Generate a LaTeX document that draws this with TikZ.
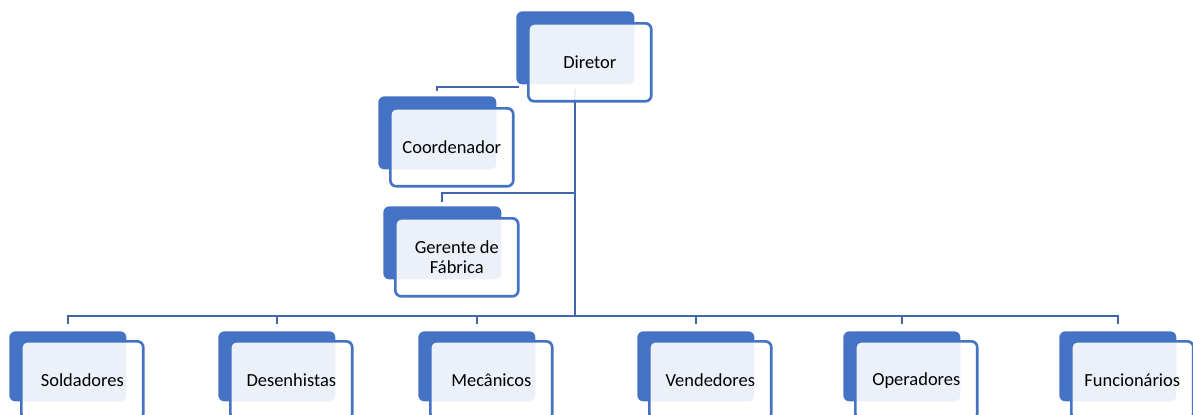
\documentclass[tikz,border=0pt]{standalone}
\usepackage{fontspec}
\setmainfont{Carlito}
\usetikzlibrary{positioning, calc}
\definecolor{boxblue}{RGB}{68,114,196}
\definecolor{linkblue}{RGB}{66,102,172}

\begin{document}
\begin{tikzpicture}[x=0.02cm, y=-0.02cm,
    font=\fontsize{10.5}{11.5}\selectfont,
    back/.style={fill=boxblue, rounded corners=0.12cm, anchor=north west, inner sep=0pt,
      minimum width=2.36cm, minimum height=1.46cm},
    front/.style={draw=boxblue, line width=1.5pt, fill=white, fill opacity=0.9, text opacity=1,
      rounded corners=0.12cm, anchor=north west, align=center, inner sep=0pt,
      minimum width=2.46cm, minimum height=1.56cm},
    lowback/.style={back, minimum width=2.34cm, minimum height=1.40cm},
    lowfront/.style={front, minimum width=2.44cm, minimum height=1.56cm},
    conn/.style={draw=linkblue, line width=1.3pt},
    ]
    \useasboundingbox (0,0) rectangle (1193,414);

    % back tabs
    \node[back] (dir-b) at (516,11) {};
    \node[back] (coord-b) at (378,96) {};
    \node[back] (ger-b) at (383,206) {};
    \foreach \nm/\x in {sold/9, des/218, mec/418, vend/637, oper/843, func/1059}
      \node[lowback] (\nm-b) at (\x,331) {};

    % links
    \coordinate (bus) at (0,316);
    \coordinate (top-j) at ([yshift=-0.08cm]dir-b.south);
    \coordinate (coord-j) at ([shift={(3,2)}]dir-b.south west);
    \coordinate (ger-j) at ([yshift=0.26cm]ger-b.north);
    \draw[conn] (top-j) -- (dir-b.south |- bus);
    \draw[conn] (coord-j) -| ([yshift=0.1cm]coord-b.north);
    \draw[conn] (ger-j -| dir-b.south) -| ([yshift=0.08cm]ger-b.north);
    \foreach \nm in {sold, des, mec, vend, oper, func}
      \draw[conn] (dir-b.south |- bus) -| ([yshift=0.14cm]\nm-b.north);

    % boxes
    \node[front] (dir) at ([shift={(11,11)}]dir-b.north west) {Diretor};
    \node[front] (coord) at ([shift={(11,11)}]coord-b.north west) {Coordenador};
    \node[front] (ger) at ([shift={(11,11)}]ger-b.north west) {Gerente de\\Fábrica};
    \foreach \nm/\txt in {sold/Soldadores, des/Desenhistas, mec/Mecânicos,
        vend/Vendedores, oper/Operadores, func/Funcionários}
      \node[lowfront] (\nm) at ([shift={(11,9)}]\nm-b.north west) {\txt};
\end{tikzpicture}
\end{document}
